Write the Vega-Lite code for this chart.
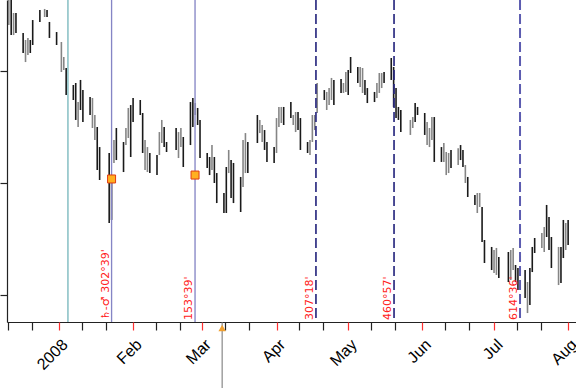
{
  "$schema": "https://vega.github.io/schema/vega-lite/v6.json",
  "width": 569,
  "height": 322,
  "autosize": {"type": "none"},
  "padding": {"left": 7, "top": 0, "right": 0, "bottom": 66},
  "background": "white",
  "config": {"view": {"stroke": null}},
  "datasets": {
    "bars": [
      {"date":"2007-12-11","high":126.6,"low":124.11,"dir":"up"},
      {"date":"2007-12-12","high":126.6,"low":123.21,"dir":"down"},
      {"date":"2007-12-13","high":125.18,"low":123.21,"dir":"up"},
      {"date":"2007-12-14","high":125.18,"low":123.39,"dir":"down"},
      {"date":"2007-12-17","high":123.39,"low":121.61,"dir":"down"},
      {"date":"2007-12-18","high":122.77,"low":120.80,"dir":"up"},
      {"date":"2007-12-19","high":122.95,"low":121.43,"dir":"up"},
      {"date":"2007-12-20","high":122.77,"low":121.61,"dir":"down"},
      {"date":"2007-12-21","high":124.55,"low":122.32,"dir":"down"},
      {"date":"2007-12-24","high":125.45,"low":124.38,"dir":"down"},
      {"date":"2007-12-26","high":125.54,"low":124.82,"dir":"up"},
      {"date":"2007-12-27","high":125.45,"low":124.82,"dir":"down"},
      {"date":"2007-12-28","high":124.38,"low":122.95,"dir":"down"},
      {"date":"2007-12-31","high":123.48,"low":122.32,"dir":"down"},
      {"date":"2008-01-02","high":122.59,"low":119.91,"dir":"up"},
      {"date":"2008-01-03","high":121.25,"low":120.09,"dir":"up"},
      {"date":"2008-01-04","high":120.27,"low":117.86,"dir":"down"},
      {"date":"2008-01-07","high":118.75,"low":117.41,"dir":"down"},
      {"date":"2008-01-08","high":118.93,"low":115.63,"dir":"down"},
      {"date":"2008-01-09","high":117.23,"low":115.00,"dir":"up"},
      {"date":"2008-01-10","high":119.20,"low":116.52,"dir":"down"},
      {"date":"2008-01-11","high":118.30,"low":115.45,"dir":"down"},
      {"date":"2008-01-14","high":117.68,"low":116.07,"dir":"down"},
      {"date":"2008-01-15","high":117.59,"low":114.91,"dir":"up"},
      {"date":"2008-01-16","high":116.07,"low":113.84,"dir":"up"},
      {"date":"2008-01-17","high":115.00,"low":111.16,"dir":"down"},
      {"date":"2008-01-18","high":113.21,"low":110.27,"dir":"down"},
      {"date":"2008-01-22","high":112.68,"low":106.43,"dir":"down"},
      {"date":"2008-01-23","high":110.54,"low":106.70,"dir":"down"},
      {"date":"2008-01-24","high":113.84,"low":111.79,"dir":"up"},
      {"date":"2008-01-25","high":114.91,"low":112.05,"dir":"down"},
      {"date":"2008-01-28","high":113.66,"low":110.98,"dir":"down"},
      {"date":"2008-01-29","high":114.91,"low":113.39,"dir":"up"},
      {"date":"2008-01-30","high":116.70,"low":114.02,"dir":"up"},
      {"date":"2008-01-31","high":116.96,"low":112.32,"dir":"down"},
      {"date":"2008-02-01","high":117.59,"low":115.45,"dir":"down"},
      {"date":"2008-02-04","high":117.41,"low":116.07,"dir":"down"},
      {"date":"2008-02-05","high":116.25,"low":112.68,"dir":"down"},
      {"date":"2008-02-06","high":113.84,"low":111.16,"dir":"up"},
      {"date":"2008-02-07","high":113.21,"low":110.98,"dir":"up"},
      {"date":"2008-02-08","high":112.68,"low":110.89,"dir":"down"},
      {"date":"2008-02-11","high":112.50,"low":110.71,"dir":"down"},
      {"date":"2008-02-12","high":114.55,"low":112.50,"dir":"up"},
      {"date":"2008-02-13","high":115.63,"low":113.57,"dir":"up"},
      {"date":"2008-02-14","high":115.00,"low":113.21,"dir":"down"},
      {"date":"2008-02-15","high":113.66,"low":112.77,"dir":"down"},
      {"date":"2008-02-19","high":114.91,"low":112.95,"dir":"down"},
      {"date":"2008-02-20","high":114.55,"low":112.23,"dir":"up"},
      {"date":"2008-02-21","high":114.91,"low":113.21,"dir":"up"},
      {"date":"2008-02-22","high":114.11,"low":111.43,"dir":"down"},
      {"date":"2008-02-25","high":117.23,"low":113.39,"dir":"down"},
      {"date":"2008-02-26","high":117.59,"low":115.00,"dir":"down"},
      {"date":"2008-02-27","high":117.14,"low":116.07,"dir":"up"},
      {"date":"2008-02-28","high":116.70,"low":115.18,"dir":"down"},
      {"date":"2008-02-29","high":115.63,"low":112.23,"dir":"down"},
      {"date":"2008-03-03","high":112.68,"low":111.34,"dir":"down"},
      {"date":"2008-03-04","high":112.32,"low":110.71,"dir":"down"},
      {"date":"2008-03-05","high":113.39,"low":111.16,"dir":"up"},
      {"date":"2008-03-06","high":112.32,"low":110.00,"dir":"down"},
      {"date":"2008-03-07","high":110.89,"low":108.21,"dir":"down"},
      {"date":"2008-03-10","high":109.11,"low":107.32,"dir":"down"},
      {"date":"2008-03-11","high":111.43,"low":107.32,"dir":"down"},
      {"date":"2008-03-12","high":112.95,"low":110.89,"dir":"up"},
      {"date":"2008-03-13","high":112.05,"low":108.66,"dir":"down"},
      {"date":"2008-03-14","high":111.79,"low":108.21,"dir":"down"},
      {"date":"2008-03-17","high":110.54,"low":107.41,"dir":"down"},
      {"date":"2008-03-18","high":113.84,"low":109.64,"dir":"up"},
      {"date":"2008-03-19","high":114.46,"low":110.89,"dir":"up"},
      {"date":"2008-03-20","high":113.66,"low":110.89,"dir":"down"},
      {"date":"2008-03-24","high":116.07,"low":113.57,"dir":"down"},
      {"date":"2008-03-25","high":115.63,"low":114.46,"dir":"up"},
      {"date":"2008-03-26","high":115.18,"low":113.66,"dir":"up"},
      {"date":"2008-03-27","high":114.73,"low":112.95,"dir":"down"},
      {"date":"2008-03-28","high":113.66,"low":111.88,"dir":"down"},
      {"date":"2008-03-31","high":113.21,"low":111.79,"dir":"down"},
      {"date":"2008-04-01","high":115.80,"low":112.68,"dir":"up"},
      {"date":"2008-04-02","high":116.79,"low":115.00,"dir":"up"},
      {"date":"2008-04-03","high":116.79,"low":115.36,"dir":"up"},
      {"date":"2008-04-04","high":116.79,"low":115.18,"dir":"down"},
      {"date":"2008-04-07","high":117.23,"low":115.80,"dir":"down"},
      {"date":"2008-04-08","high":116.07,"low":115.18,"dir":"up"},
      {"date":"2008-04-09","high":116.34,"low":114.55,"dir":"up"},
      {"date":"2008-04-10","high":116.34,"low":114.73,"dir":"down"},
      {"date":"2008-04-11","high":115.80,"low":112.95,"dir":"down"},
      {"date":"2008-04-14","high":113.66,"low":112.68,"dir":"down"},
      {"date":"2008-04-15","high":113.84,"low":112.50,"dir":"up"},
      {"date":"2008-04-16","high":116.07,"low":113.66,"dir":"up"},
      {"date":"2008-04-17","high":116.07,"low":114.73,"dir":"up"},
      {"date":"2008-04-18","high":118.93,"low":116.25,"dir":"up"},
      {"date":"2008-04-21","high":118.30,"low":117.41,"dir":"down"},
      {"date":"2008-04-22","high":118.13,"low":116.52,"dir":"up"},
      {"date":"2008-04-23","high":118.48,"low":116.96,"dir":"up"},
      {"date":"2008-04-24","high":119.38,"low":117.41,"dir":"up"},
      {"date":"2008-04-25","high":119.20,"low":116.96,"dir":"down"},
      {"date":"2008-04-28","high":119.29,"low":118.04,"dir":"down"},
      {"date":"2008-04-29","high":118.93,"low":118.04,"dir":"up"},
      {"date":"2008-04-30","high":119.91,"low":118.13,"dir":"up"},
      {"date":"2008-05-01","high":120.09,"low":117.86,"dir":"down"},
      {"date":"2008-05-02","high":121.25,"low":119.82,"dir":"down"},
      {"date":"2008-05-05","high":120.36,"low":118.93,"dir":"down"},
      {"date":"2008-05-06","high":120.36,"low":118.57,"dir":"up"},
      {"date":"2008-05-07","high":120.27,"low":118.04,"dir":"up"},
      {"date":"2008-05-08","high":119.20,"low":117.86,"dir":"down"},
      {"date":"2008-05-09","high":118.48,"low":117.14,"dir":"down"},
      {"date":"2008-05-12","high":118.13,"low":117.23,"dir":"down"},
      {"date":"2008-05-13","high":118.93,"low":117.59,"dir":"up"},
      {"date":"2008-05-14","high":119.82,"low":118.04,"dir":"up"},
      {"date":"2008-05-15","high":119.82,"low":118.48,"dir":"up"},
      {"date":"2008-05-16","high":119.91,"low":118.93,"dir":"down"},
      {"date":"2008-05-19","high":121.16,"low":119.20,"dir":"down"},
      {"date":"2008-05-20","high":120.36,"low":116.79,"dir":"down"},
      {"date":"2008-05-21","high":118.48,"low":115.80,"dir":"down"},
      {"date":"2008-05-22","high":116.79,"low":115.63,"dir":"down"},
      {"date":"2008-05-23","high":116.52,"low":114.55,"dir":"down"},
      {"date":"2008-05-27","high":115.63,"low":114.29,"dir":"up"},
      {"date":"2008-05-28","high":115.89,"low":114.91,"dir":"up"},
      {"date":"2008-05-29","high":117.14,"low":115.45,"dir":"down"},
      {"date":"2008-05-30","high":116.79,"low":116.07,"dir":"down"},
      {"date":"2008-06-02","high":116.25,"low":114.29,"dir":"down"},
      {"date":"2008-06-03","high":115.45,"low":113.39,"dir":"up"},
      {"date":"2008-06-04","high":114.91,"low":113.21,"dir":"up"},
      {"date":"2008-06-05","high":115.89,"low":113.84,"dir":"up"},
      {"date":"2008-06-06","high":115.89,"low":111.88,"dir":"down"},
      {"date":"2008-06-09","high":113.21,"low":111.88,"dir":"down"},
      {"date":"2008-06-10","high":113.57,"low":111.88,"dir":"up"},
      {"date":"2008-06-11","high":112.77,"low":110.71,"dir":"up"},
      {"date":"2008-06-12","high":112.68,"low":110.89,"dir":"up"},
      {"date":"2008-06-13","high":112.95,"low":111.34,"dir":"down"},
      {"date":"2008-06-16","high":113.11,"low":111.61,"dir":"up"},
      {"date":"2008-06-17","high":113.39,"low":112.05,"dir":"down"},
      {"date":"2008-06-18","high":112.95,"low":111.43,"dir":"down"},
      {"date":"2008-06-19","high":111.61,"low":110.00,"dir":"up"},
      {"date":"2008-06-20","high":110.54,"low":108.75,"dir":"down"},
      {"date":"2008-06-23","high":108.93,"low":108.04,"dir":"down"},
      {"date":"2008-06-24","high":109.11,"low":107.32,"dir":"up"},
      {"date":"2008-06-25","high":109.11,"low":107.86,"dir":"up"},
      {"date":"2008-06-26","high":107.86,"low":104.73,"dir":"down"},
      {"date":"2008-06-27","high":104.91,"low":102.86,"dir":"down"},
      {"date":"2008-06-30","high":104.29,"low":102.23,"dir":"down"},
      {"date":"2008-07-01","high":104.02,"low":101.96,"dir":"up"},
      {"date":"2008-07-02","high":104.20,"low":101.79,"dir":"up"},
      {"date":"2008-07-03","high":103.39,"low":101.52,"dir":"down"},
      {"date":"2008-07-07","high":103.84,"low":101.16,"dir":"down"},
      {"date":"2008-07-08","high":104.02,"low":101.34,"dir":"up"},
      {"date":"2008-07-09","high":104.20,"low":102.23,"dir":"up"},
      {"date":"2008-07-10","high":102.68,"low":101.16,"dir":"down"},
      {"date":"2008-07-11","high":102.41,"low":100.45,"dir":"down"},
      {"date":"2008-07-14","high":102.23,"low":99.73,"dir":"down"},
      {"date":"2008-07-15","high":101.16,"low":98.39,"dir":"up"},
      {"date":"2008-07-16","high":102.41,"low":99.11,"dir":"down"},
      {"date":"2008-07-17","high":104.29,"low":102.05,"dir":"down"},
      {"date":"2008-07-18","high":105.09,"low":103.75,"dir":"down"},
      {"date":"2008-07-21","high":105.54,"low":104.20,"dir":"up"},
      {"date":"2008-07-22","high":106.07,"low":103.84,"dir":"up"},
      {"date":"2008-07-23","high":108.04,"low":105.18,"dir":"down"},
      {"date":"2008-07-24","high":106.96,"low":104.02,"dir":"down"},
      {"date":"2008-07-25","high":105.18,"low":102.41,"dir":"down"},
      {"date":"2008-07-28","high":104.29,"low":100.89,"dir":"up"},
      {"date":"2008-07-29","high":104.29,"low":101.07,"dir":"down"},
      {"date":"2008-07-30","high":106.70,"low":103.30,"dir":"down"},
      {"date":"2008-07-31","high":106.43,"low":104.02,"dir":"up"},
      {"date":"2008-08-01","high":106.70,"low":104.46,"dir":"down"}
    ],
    "vlines": [
      {"date":"2008-01-04T18:00:00Z","kind":"node","label":""},
      {"date":"2008-01-23T00:00:00Z","kind":"aspect","label":"♄-♂ 302°39'"},
      {"date":"2008-02-26T22:00:00Z","kind":"aspect","label":"153°39'"},
      {"date":"2008-04-17T12:00:00Z","kind":"degree","label":"307°18'"},
      {"date":"2008-05-20T04:00:00Z","kind":"degree","label":"460°57'"},
      {"date":"2008-07-11T21:00:00Z","kind":"degree2","label":"614°36'"}
    ],
    "hits": [
      {"date":"2008-01-23T00:00:00Z","price":110.36},
      {"date":"2008-02-26T22:00:00Z","price":110.71}
    ],
    "cursor": [
      {"date":"2008-03-09T06:00:00Z","from":91.6,"to":97.59,"tip":97.05}
    ]
  },
  "resolve": {"axis": {"x": "independent"}},
  "layer": [
    {
      "data": {"name": "bars"},
      "mark": {"type": "rule", "strokeWidth": 1.6, "clip": true},
      "encoding": {
        "x": {
          "field": "date", "type": "temporal",
          "scale": {"type": "utc", "domain": [
            {"year": 2007, "month": 12, "date": 10, "hours": 6, "utc": true},
            {"year": 2008, "month": 8, "date": 4, "hours": 7, "utc": true}
          ]},
          "axis": {
            "orient": "bottom",
            "title": null,
            "grid": false,
            "labels": false,
            "values": [
              {"year":2007,"month":12,"date":10,"hours":12,"utc":true},
              {"year":2007,"month":12,"date":20,"hours":12,"utc":true},
              {"year":2008,"month":1,"date":10,"hours":12,"utc":true},
              {"year":2008,"month":1,"date":20,"hours":12,"utc":true},
              {"year":2008,"month":2,"date":10,"hours":12,"utc":true},
              {"year":2008,"month":2,"date":20,"hours":12,"utc":true},
              {"year":2008,"month":3,"date":10,"hours":12,"utc":true},
              {"year":2008,"month":3,"date":20,"hours":12,"utc":true},
              {"year":2008,"month":4,"date":10,"hours":12,"utc":true},
              {"year":2008,"month":4,"date":20,"hours":12,"utc":true},
              {"year":2008,"month":5,"date":10,"hours":12,"utc":true},
              {"year":2008,"month":5,"date":20,"hours":12,"utc":true},
              {"year":2008,"month":6,"date":10,"hours":12,"utc":true},
              {"year":2008,"month":6,"date":20,"hours":12,"utc":true},
              {"year":2008,"month":7,"date":10,"hours":12,"utc":true},
              {"year":2008,"month":7,"date":20,"hours":12,"utc":true}
            ],
            "tickSize": 8,
            "tickWidth": 1.2,
            "tickColor": "#222222",
            "domainColor": "#222222",
            "domainWidth": 1.2
          }
        },
        "y": {
          "field": "high", "type": "quantitative",
          "scale": {"domain": [97.59, 126.34], "nice": false, "zero": false},
          "axis": {
            "title": null, "grid": false, "labels": false,
            "values": [100, 110, 120],
            "tickSize": 7, "tickColor": "#222222", "tickWidth": 1.2,
            "domainColor": "#222222", "domainWidth": 1.2
          }
        },
        "y2": {"field": "low"},
        "color": {
          "field": "dir", "type": "nominal", "legend": null,
          "scale": {"domain": ["up", "down", "node", "aspect", "degree", "degree2"],
                    "range": ["#858585", "#1a1a1a", "#4a9fa6", "#8585c5", "#2a2a80", "#5c5cb0"]}
        }
      }
    },
    {
      "data": {"name": "vlines"},
      "mark": {"type": "rule"},
      "encoding": {
        "x": {
          "field": "date", "type": "temporal",
          "axis": {
            "orient": "bottom",
            "title": null,
            "grid": false,
            "domain": false,
            "values": [
              {"year":2008,"month":1,"date":1,"utc":true},
              {"year":2008,"month":2,"date":1,"utc":true},
              {"year":2008,"month":3,"date":1,"utc":true},
              {"year":2008,"month":4,"date":1,"utc":true},
              {"year":2008,"month":5,"date":1,"utc":true},
              {"year":2008,"month":6,"date":1,"utc":true},
              {"year":2008,"month":7,"date":1,"utc":true},
              {"year":2008,"month":8,"date":1,"utc":true}
            ],
            "labelExpr": "utcFormat(datum.value, '%m') == '01' ? '2008' : utcFormat(datum.value, '%b')",
            "labelAngle": -45,
            "labelFont": "Liberation Sans",
            "labelFontSize": 16,
            "labelColor": "#000000",
            "labelOverlap": false,
            "labelFlush": false,
            "labelBound": false,
            "labelPadding": 6,
            "tickSize": 8,
            "tickWidth": 1.2,
            "tickColor": "#ff3030"
          }
        },
        "color": {"field": "kind", "type": "nominal", "legend": null},
        "strokeDash": {"field": "kind", "type": "nominal", "legend": null,
          "scale": {"domain": ["node", "aspect", "degree", "degree2"], "range": [[1, 0], [1, 0], [10, 4], [10, 4]]}},
        "strokeWidth": {"field": "kind", "type": "nominal", "legend": null,
          "scale": {"domain": ["node", "aspect", "degree", "degree2"], "range": [1, 2, 1.5, 1.5]}}
      }
    },
    {
      "data": {"name": "vlines"},
      "mark": {"type": "text", "angle": 270, "align": "left", "baseline": "bottom",
               "dx": 2, "dy": -1, "font": "DejaVu Sans", "fontSize": 11, "color": "#ff2020"},
      "encoding": {
        "x": {"field": "date", "type": "temporal", "axis": null},
        "y": {"datum": 97.59},
        "text": {"field": "label"}
      }
    },
    {
      "data": {"name": "hits"},
      "mark": {"type": "point", "shape": "square", "size": 64, "filled": true,
               "fill": "#ffb020", "stroke": "#e03a10", "strokeWidth": 1, "opacity": 1},
      "encoding": {
        "x": {"field": "date", "type": "temporal", "axis": null},
        "y": {"field": "price", "type": "quantitative"}
      }
    },
    {
      "data": {"name": "cursor"},
      "mark": {"type": "rule", "color": "#707070", "strokeWidth": 1},
      "encoding": {
        "x": {"field": "date", "type": "temporal", "axis": null},
        "y": {"field": "from", "type": "quantitative"},
        "y2": {"field": "to"}
      }
    },
    {
      "data": {"name": "cursor"},
      "mark": {"type": "point", "shape": "triangle-up", "size": 55, "filled": true,
               "color": "#f0a030", "opacity": 1},
      "encoding": {
        "x": {"field": "date", "type": "temporal", "axis": null},
        "y": {"field": "tip", "type": "quantitative"}
      }
    }
  ]
}
